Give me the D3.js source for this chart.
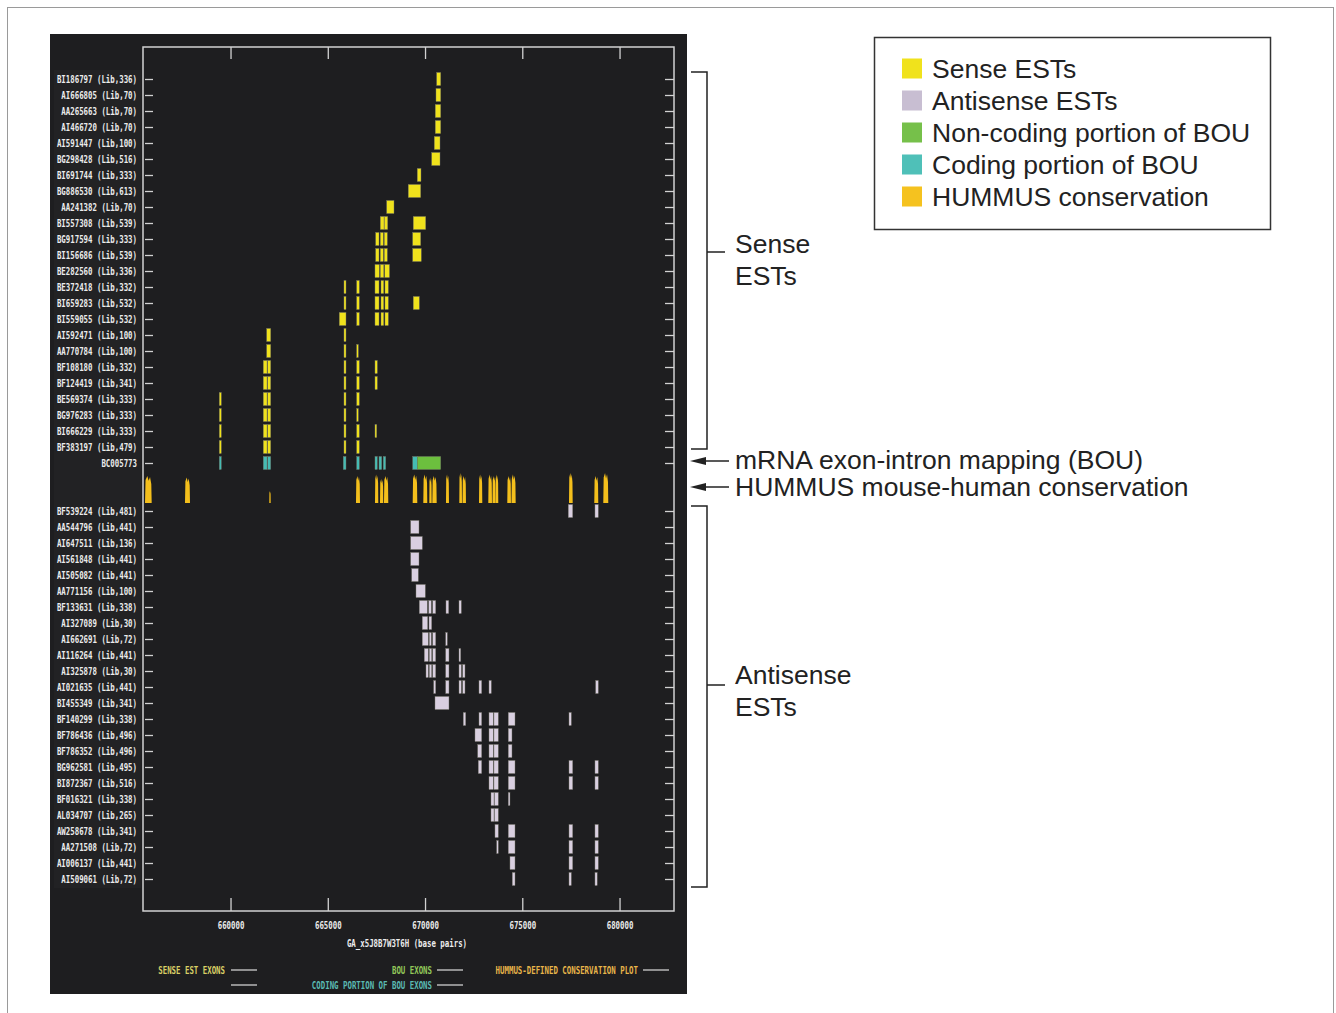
<!DOCTYPE html>
<html><head><meta charset="utf-8">
<script src="https://cdn.jsdelivr.net/npm/d3@7"></script>
<style>body{margin:0;background:#fff}svg{display:block}</style>
</head><body>
<svg id="c" width="1336" height="1013"></svg>
<script>
// ---------------- DATA ----------------
const xTicks = [660000, 665000, 670000, 675000, 680000];
const xTitle = "GA_x5J8B7W3T6H (base pairs)";

const senseLabels = ["BI186797 (Lib,336)","AI666805 (Lib,70)","AA265663 (Lib,70)","AI466720 (Lib,70)",
 "AI591447 (Lib,100)","BG298428 (Lib,516)","BI691744 (Lib,333)","BG886530 (Lib,613)","AA241382 (Lib,70)",
 "BI557308 (Lib,539)","BG917594 (Lib,333)","BI156686 (Lib,539)","BE282560 (Lib,336)","BE372418 (Lib,332)",
 "BI659283 (Lib,532)","BI559055 (Lib,532)","AI592471 (Lib,100)","AA770784 (Lib,100)","BF108180 (Lib,332)",
 "BF124419 (Lib,341)","BE569374 (Lib,333)","BG976283 (Lib,333)","BI666229 (Lib,333)","BF383197 (Lib,479)"];

const senseExons = [
 [[670599,670805]],
 [[670563,670805]],
 [[670527,670805]],
 [[670527,670805]],
 [[670476,670769]],
 [[670342,670769]],
 [[669602,669792]],
 [[669139,669776]],
 [[668029,668404]],
 [[667700,667890],[667905,668080],[669396,670034]],
 [[667463,667633],[667700,667854],[667905,668059],[669365,669776]],
 [[667463,667633],[667700,667854],[667905,668059],[669365,669807]],
 [[667427,667648],[667700,667880],[667930,668170]],
 [[665833,665936],[666486,666620],[667427,667633],[667736,667874],[667941,668111]],
 [[665833,665936],[666486,666620],[667427,667633],[667736,667874],[667941,668111],[669396,669705]],
 [[665592,665936],[666486,666620],[667427,667633],[667736,667874],[667941,668111]],
 [[661859,662065],[665833,665936]],
 [[661859,662065],[665833,665936],[666486,666569]],
 [[661685,661875],[661910,662065],[665833,665936],[666486,666620],[667427,667545]],
 [[661685,661875],[661910,662065],[665833,665936],[666486,666620],[667427,667545]],
 [[659423,659525],[661685,661875],[661910,662065],[665833,665936],[666486,666620]],
 [[659423,659525],[661685,661875],[661910,662065],[665833,665936],[666486,666569]],
 [[659423,659525],[661685,661875],[661910,662065],[665833,665936],[666486,666620],[667427,667515]],
 [[659423,659525],[661685,661875],[661910,662065],[665833,665936],[666486,666620]]
];

const bouLabel = "BC005773";
const bouCoding = [[659423,659525],[661685,661875],[661910,662065],[665797,665936],[666486,666620],
 [667427,667545],[667633,667772],[667854,667977],[669365,669602]];
const bouNoncoding = [[669602,670805]];

// [start, end, relative height]
const hummusPeaks = [
 [655603,655947,0.9],[657659,657916,0.85],[661993,662065,0.4],[666450,666656,0.9],
 [667427,667597,0.95],[667684,667854,0.8],[667890,668111,0.9],[669365,669602,0.95],
 [669911,670116,0.95],[670219,670342,0.85],[670374,670599,0.9],[671077,671231,0.95],
 [671761,671900,1.0],[671926,672105,0.9],[672774,672944,0.95],[673252,673442,0.95],
 [673468,673622,0.9],[673622,673766,0.95],[674228,674418,0.9],[674444,674660,0.95],
 [677401,677591,1.0],[678701,678907,0.9],[679164,679421,1.0]
];

const antisenseLabels = ["BF539224 (Lib,481)","AA544796 (Lib,441)","AI647511 (Lib,136)","AI561848 (Lib,441)",
 "AI505082 (Lib,441)","AA771156 (Lib,100)","BF133631 (Lib,338)","AI327089 (Lib,30)","AI662691 (Lib,72)",
 "AI116264 (Lib,441)","AI325878 (Lib,30)","AI021635 (Lib,441)","BI455349 (Lib,341)","BF140299 (Lib,338)",
 "BF786436 (Lib,496)","BF786352 (Lib,496)","BG962581 (Lib,495)","BI872367 (Lib,516)","BF016321 (Lib,338)",
 "AL034707 (Lib,265)","AW258678 (Lib,341)","AA271508 (Lib,72)","AI006137 (Lib,441)","AI509061 (Lib,72)"];

const antisenseExons = [
 [[677365,677591],[678737,678907]],
 [[669262,669689]],
 [[669262,669859]],
 [[669262,669689]],
 [[669314,669653]],
 [[669535,670013]],
 [[669705,670116],[670188,670322],[670394,670548],[671077,671216],[671746,671864]],
 [[669859,670136],[670203,670342]],
 [[669859,670167],[670219,670322],[670394,670548],[671062,671144]],
 [[669962,670167],[670219,670342],[670394,670548],[671062,671231],[671746,671833]],
 [[670049,670167],[670219,670342],[670394,670548],[671062,671231],[671746,671864],[671936,672054]],
 [[670445,670548],[671062,671231],[671746,671864],[671936,672054],[672774,672912],[673288,673406],[678773,678907]],
 [[670512,671231]],
 [[671967,672090],[672774,672912],[673288,673509],[673545,673766],[674280,674625],[677401,677519]],
 [[672568,672912],[673288,673509],[673545,673766],[674280,674470]],
 [[672707,672912],[673288,673509],[673545,673766],[674280,674470]],
 [[672738,672912],[673288,673509],[673545,673766],[674280,674625],[677401,677591],[678737,678907]],
 [[673288,673509],[673545,673766],[674280,674625],[677401,677591],[678737,678907]],
 [[673391,673545],[673570,673766],[674280,674367]],
 [[673391,673545],[673570,673766]],
 [[673596,673766],[674280,674625],[677401,677591],[678737,678907]],
 [[673684,673766],[674280,674625],[677401,677591],[678737,678907]],
 [[674367,674625],[677401,677591],[678737,678907]],
 [[674486,674625],[677401,677519],[678737,678850]]
];

const legendLabels = ["Sense ESTs","Antisense ESTs","Non-coding portion of BOU","Coding portion of BOU","HUMMUS conservation"];
const panelLegendLabels = ["SENSE EST EXONS","BOU EXONS","CODING PORTION OF BOU EXONS","HUMMUS-DEFINED CONSERVATION PLOT"];
const annotationLabels = [["Sense","ESTs"],["mRNA exon-intron mapping (BOU)"],["HUMMUS mouse-human conservation"],["Antisense","ESTs"]];

// ---------------- STYLE ----------------
const C = {panel:"#1e1e20", axis:"#d2d2d2", text:"#ececec",
  sense:"#f0e21c", anti:"#d9cfe0", noncoding:"#6cbf3e", coding:"#45bcb4", hummus:"#f4bf1c"};
const legendColors = [C.sense, "#c8bed2", "#76c04a", "#4fc0b8", "#f5c21f"];
const MONO = "'DejaVu Sans Mono', monospace";
const CW = 4.45; // char width for condensed mono text

const svg = d3.select("#c");

// outer frame
svg.append("rect").attr("x",7.5).attr("y",7.5).attr("width",1326).attr("height",1012)
  .attr("fill","none").attr("stroke","#9a9a9a").attr("stroke-width",1);

// dark panel
svg.append("rect").attr("x",50).attr("y",34).attr("width",637).attr("height",960).attr("fill",C.panel);
svg.append("rect").attr("x",54).attr("y",70).attr("width",87).attr("height",818).attr("fill","#222224");

// scales
const x = d3.scaleLinear().domain([655500, 682800]).range([143, 674]);
const rows = [...senseLabels, bouLabel, "__h1", "__h2", ...antisenseLabels];
const y = d3.scalePoint().domain(rows).range([79, 879]);
const labeledRows = rows.filter(r => !r.startsWith("__"));
const BH = 13;

function condensed(sel){
  sel.each(function(){
    const t = d3.select(this), s = t.text();
    if (s) t.attr("textLength", s.length*CW).attr("lengthAdjust","spacingAndGlyphs");
  });
}

// axes
const gB = svg.append("g").attr("transform","translate(0,911)")
  .call(d3.axisBottom(x).tickValues(xTicks).tickFormat(d3.format("d")).tickSizeInner(-13).tickSizeOuter(0).tickPadding(11));
const gT = svg.append("g").attr("transform","translate(0,47)")
  .call(d3.axisTop(x).tickValues(xTicks).tickFormat("").tickSizeInner(-12).tickSizeOuter(0));
const gL = svg.append("g").attr("transform","translate(143,0)")
  .call(d3.axisLeft(y).tickValues(labeledRows).tickSizeInner(-8).tickSizeOuter(0).tickPadding(6));
const gR = svg.append("g").attr("transform","translate(674,0)")
  .call(d3.axisRight(y).tickValues(labeledRows).tickFormat("").tickSizeInner(-9).tickSizeOuter(0));
[gB,gT,gL,gR].forEach(g=>{
  g.select(".domain").remove();
  g.selectAll(".tick line").attr("stroke",C.axis).attr("stroke-width",1.3);
  g.selectAll("text").attr("fill",C.text).attr("font-family",MONO).attr("font-size",10.5).attr("font-weight","bold");
});
gL.selectAll(".tick line").attr("transform","translate(2,0)");
gB.selectAll("text").call(condensed);
gL.selectAll("text").call(condensed);

// frame
svg.append("rect").attr("x",143).attr("y",47).attr("width",531).attr("height",864)
  .attr("fill","none").attr("stroke",C.axis).attr("stroke-width",1.5);

// axis title
svg.append("text").attr("x",407).attr("y",947).attr("text-anchor","middle")
  .attr("fill",C.text).attr("font-family",MONO).attr("font-size",10.5).attr("font-weight","bold")
  .text(xTitle).call(condensed);

// exon bars
function bars(data, rowName, color){
  svg.append("g").selectAll("rect").data(data).join("rect")
    .attr("x", d => x(d[0])).attr("width", d => Math.max(1.5, x(d[1]) - x(d[0])))
    .attr("y", y(rowName) - BH/2).attr("height", BH)
    .attr("fill", color).attr("stroke","#77776a").attr("stroke-width",0.4);
}
senseExons.forEach((ex,i) => bars(ex, senseLabels[i], C.sense));
antisenseExons.forEach((ex,i) => bars(ex, antisenseLabels[i], C.anti));
bars(bouCoding, bouLabel, C.coding);
bars(bouNoncoding, bouLabel, C.noncoding);

// HUMMUS conservation peaks
const hBase = y("__h2") + 8, hMax = 30;
const hArea = d3.area().x(d=>d[0]).y0(hBase).y1(d=>d[1]);
svg.append("g").selectAll("path").data(hummusPeaks).join("path")
  .attr("d", d => {
    const s = x(d[0]), e = x(d[1]), w = e - s, h = d[2]*hMax;
    return hArea([[s,hBase],[s+0.08*w,hBase-0.85*h],[s+0.35*w,hBase-h],[s+0.55*w,hBase-0.82*h],
                  [s+0.75*w,hBase-0.96*h],[e-0.06*w,hBase-0.7*h],[e,hBase]]);
  })
  .attr("fill", C.hummus);

// panel legend
const pl = [
  {t:panelLegendLabels[0], xe:225, y:970, c:"#d9cf66", lx:231},
  {t:panelLegendLabels[1], xe:432, y:970, c:"#93c85a", lx:437},
  {t:panelLegendLabels[2], xe:432, y:985, c:"#5bbab3", lx:437},
  {t:panelLegendLabels[3], xe:638, y:970, c:"#e8b54a", lx:643}
];
pl.forEach(d=>{
  svg.append("text").attr("x",d.xe).attr("y",d.y+3.5).attr("text-anchor","end")
    .attr("fill",d.c).attr("font-family",MONO).attr("font-size",10.5).attr("font-weight","bold")
    .text(d.t).call(condensed);
  svg.append("line").attr("x1",d.lx).attr("x2",d.lx+26).attr("y1",d.y).attr("y2",d.y)
    .attr("stroke","#d0d0d0").attr("stroke-width",1.3);
});
svg.append("line").attr("x1",231).attr("x2",257).attr("y1",985).attr("y2",985)
  .attr("stroke","#d0d0d0").attr("stroke-width",1.3);

// ---------- right side annotations ----------
const SANS = "'Liberation Sans', Arial, sans-serif";
const ink = "#222";
const FS = 26.5;
function bracket(y0, y1, ym){
  svg.append("path").attr("d",`M691,${y0}H707V${y1}H691M707,${ym}H725`)
    .attr("fill","none").attr("stroke",ink).attr("stroke-width",1.5);
}
bracket(72, 449, 252);
bracket(506, 887, 685);
function twoLine(lines, yb){
  lines.forEach((t,i)=> svg.append("text").attr("x",735).attr("y",yb+i*32)
    .attr("font-family",SANS).attr("font-size",FS).attr("fill",ink).text(t));
}
twoLine(annotationLabels[0], 253);
twoLine(annotationLabels[3], 684);
function arrow(yy, label, yb){
  svg.append("line").attr("x1",700).attr("x2",729).attr("y1",yy).attr("y2",yy)
    .attr("stroke",ink).attr("stroke-width",1.5);
  svg.append("path").attr("d",`M690,${yy}L706,${yy-4}L706,${yy+4}Z`).attr("fill",ink);
  svg.append("text").attr("x",735).attr("y",yb).attr("font-family",SANS)
    .attr("font-size",FS).attr("fill",ink).text(label);
}
arrow(461, annotationLabels[1][0], 469);
arrow(487, annotationLabels[2][0], 496);

// legend box
svg.append("rect").attr("x",874.5).attr("y",37.5).attr("width",396).attr("height",192)
  .attr("fill","#fff").attr("stroke","#333").attr("stroke-width",1.5);
const lg = svg.append("g").selectAll("g").data(legendLabels).join("g")
  .attr("transform",(d,i)=>`translate(902,${68.5+i*32})`);
lg.append("rect").attr("x",0).attr("y",-10).attr("width",20).attr("height",20)
  .attr("fill",(d,i)=>legendColors[i]);
lg.append("text").attr("x",30).attr("y",9).attr("font-family",SANS).attr("font-size",FS)
  .attr("fill",ink).text(d=>d);
</script>
</body></html>
